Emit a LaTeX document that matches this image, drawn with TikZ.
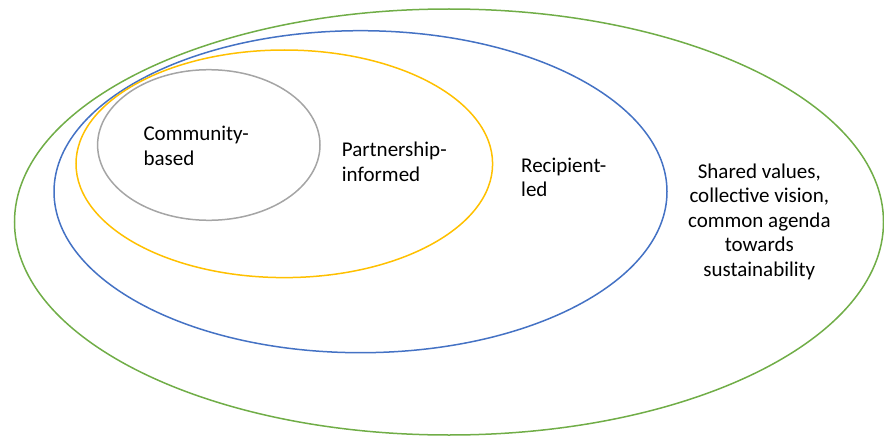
\documentclass[tikz,border=0pt]{standalone}
\usepackage{fontspec}
\setmainfont{Carlito}
\usepackage{tikz}
\usetikzlibrary{positioning}

\definecolor{ringgreen}{HTML}{70AD47}
\definecolor{ringblue}{HTML}{4472C4}
\definecolor{ringyellow}{HTML}{FFC000}
\definecolor{ringgray}{HTML}{A5A5A5}

\begin{document}
\begin{tikzpicture}[
        x=1pt, y=-1pt,
        ring/.style={line width=1.5pt},
        label/.style={font=\fontsize{21}{24.5}\selectfont, inner sep=0pt, anchor=base west, align=left}
        ]

        \useasboundingbox (0,0) rectangle (884,436);

        \draw[ring, ringgreen]  (449,222)   ellipse [x radius=434.5, y radius=213];
        \draw[ring, ringblue]   (360.5,191.7) ellipse [x radius=306.5, y radius=161];
        \draw[ring, ringyellow] (284.3,163.8) ellipse [x radius=208.3, y radius=113.8];
        \draw[ring, ringgray]   (208.8,145) ellipse [x radius=111.2, y radius=75.3];

        % base anchor sits on the last line
        \node[label] (community)   at (143.3,165)   {Community-\\based};
        \node[label] (partnership) at (341.7,181)   {Partnership-\\informed};
        \node[label] (recipient)   at (521,196.7)   {Recipient-\\led};
        \node[label, anchor=base, align=center] (shared) at (759.3,276)
            {Shared values,\\collective vision,\\common agenda\\towards\\sustainability};
    \end{tikzpicture}
\end{document}
